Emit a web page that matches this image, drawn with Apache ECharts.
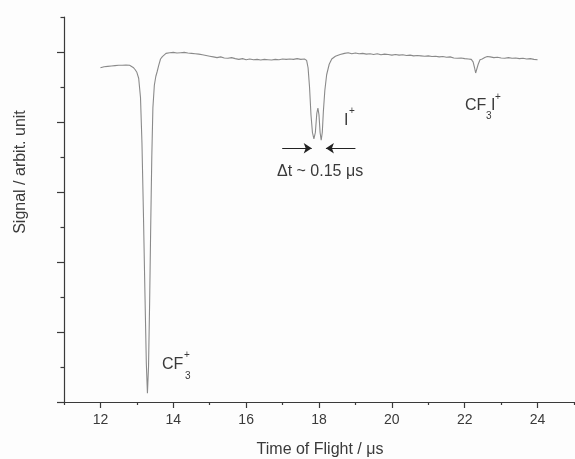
<!DOCTYPE html>
<html>
<head>
<meta charset="utf-8">
<script src="https://cdn.jsdelivr.net/npm/echarts@6/dist/echarts.min.js"></script>
<style>
  html, body { margin: 0; padding: 0; background: #fdfdfd; }
  #main { width: 575px; height: 459px; }
</style>
</head>
<body>
<div id="main"></div>
<script>
var myChart = echarts.init(document.getElementById('main'));

// time of flight (µs)
var tof = [
  12.00, 12.05, 12.10, 12.15, 12.20, 12.25, 12.30, 12.35, 12.40, 12.45,
  12.50, 12.55, 12.60, 12.65, 12.70, 12.75, 12.80, 12.85, 12.90, 12.95,
  13.00, 13.05, 13.10, 13.14, 13.18, 13.22, 13.26, 13.29, 13.32, 13.35,
  13.38, 13.41, 13.44, 13.48, 13.52, 13.56, 13.60, 13.65, 13.70, 13.75,
  13.80, 13.85, 13.90, 13.95, 14.00, 14.05, 14.10, 14.15, 14.20, 14.25,
  14.30, 14.35, 14.40, 14.45, 14.50, 14.55, 14.60, 14.65, 14.70, 14.75,
  14.80, 14.85, 14.90, 14.95, 15.00, 15.10, 15.20, 15.30, 15.40, 15.50,
  15.60, 15.70, 15.80, 15.90, 16.00, 16.10, 16.20, 16.30, 16.40, 16.50,
  16.60, 16.70, 16.80, 16.90, 17.00, 17.10, 17.20, 17.30, 17.40, 17.50,
  17.60, 17.66, 17.70, 17.74, 17.78, 17.82, 17.86, 17.90, 17.94, 17.97,
  18.00, 18.03, 18.06, 18.09, 18.12, 18.16, 18.21, 18.28, 18.35, 18.45,
  18.58, 18.70, 18.80, 18.90, 19.00, 19.10, 19.20, 19.30, 19.40, 19.50,
  19.60, 19.70, 19.80, 19.90, 20.00, 20.10, 20.20, 20.30, 20.40, 20.50,
  20.60, 20.70, 20.80, 20.90, 21.00, 21.10, 21.20, 21.30, 21.40, 21.50,
  21.60, 21.70, 21.80, 21.90, 22.00, 22.10, 22.18, 22.23, 22.27, 22.30,
  22.33, 22.37, 22.42, 22.48, 22.55, 22.62, 22.70, 22.80, 22.90, 23.00,
  23.10, 23.20, 23.30, 23.40, 23.50, 23.60, 23.70, 23.80, 23.90, 24.00
];

// signal (arbitrary units)
var signal = [
  9.55, 9.57, 9.58, 9.57, 9.59, 9.58, 9.60, 9.59, 9.61, 9.60,
  9.62, 9.60, 9.62, 9.61, 9.63, 9.60, 9.62, 9.58, 9.56, 9.50,
  9.42, 9.25, 8.70, 7.40, 5.40, 3.20, 1.10, 0.25, 1.00, 2.80,
  5.00, 7.00, 8.40, 9.05, 9.30, 9.45, 9.62, 9.80, 9.87, 9.92,
  9.96, 9.93, 9.98, 9.94, 9.99, 9.95, 9.97, 9.93, 9.98, 9.94,
  9.99, 9.95, 9.97, 9.92, 9.96, 9.93, 9.95, 9.91, 9.94, 9.90,
  9.92, 9.88, 9.90, 9.86, 9.88, 9.86, 9.84, 9.86, 9.83, 9.82,
  9.84, 9.81, 9.79, 9.81, 9.78, 9.80, 9.78, 9.79, 9.77, 9.79,
  9.78, 9.77, 9.79, 9.78, 9.80, 9.79, 9.80, 9.79, 9.81, 9.79,
  9.80, 9.76, 9.55, 9.00, 8.20, 7.70, 7.52, 7.70, 8.25, 8.40,
  8.20, 7.70, 7.48, 7.70, 8.30, 8.90, 9.35, 9.65, 9.80, 9.88,
  9.93, 9.96, 9.98, 9.95, 9.97, 9.95, 9.96, 9.94, 9.95, 9.93,
  9.95, 9.92, 9.94, 9.93, 9.91, 9.93, 9.91, 9.92, 9.90, 9.91,
  9.89, 9.90, 9.89, 9.88, 9.89, 9.87, 9.88, 9.86, 9.87, 9.85,
  9.86, 9.83, 9.82, 9.83, 9.81, 9.80, 9.79, 9.72, 9.55, 9.40,
  9.45, 9.65, 9.78, 9.80, 9.84, 9.87, 9.86, 9.84, 9.85, 9.83,
  9.82, 9.84, 9.82, 9.83, 9.81, 9.82, 9.80, 9.81, 9.79, 9.78
];

var xMajor = [12, 14, 16, 18, 20, 22, 24];
var xMinor = [11, 13, 15, 17, 19, 21, 23, 25];
var yMajor = [0, 2, 4, 6, 8, 10];
var yMinor = [1, 3, 5, 7, 9, 11];

// Δt arrows: [from, to] in data coords
var arrowLeft = [[16.99, 7.25], [17.80, 7.25]];
var arrowRight = [[19.00, 7.25], [18.19, 7.25]];

var data = tof.map(function (t, i) { return [t, signal[i]]; });

var axisColor = '#3a3a3a';
var textColor = '#3a3a3a';
var font = '"Liberation Sans", Arial, sans-serif';

function xAx(ticks, len, showLine, showLabel) {
    return {
        type: 'value', min: 11, max: 25, position: 'bottom',
        axisLine: { show: showLine, onZero: false, lineStyle: { color: axisColor, width: 1.2 } },
        axisTick: { show: true, customValues: ticks, length: len, lineStyle: { color: axisColor, width: 1.2 } },
        axisLabel: { show: showLabel, customValues: ticks, margin: 11, color: textColor, fontSize: 14, fontFamily: font },
        splitLine: { show: false }
    };
}
function yAx(ticks, len, showLine) {
    return {
        type: 'value', min: 0, max: 11, position: 'left',
        axisLine: { show: showLine, onZero: false, lineStyle: { color: axisColor, width: 1.2 } },
        axisTick: { show: true, customValues: ticks, length: len, lineStyle: { color: axisColor, width: 1.2 } },
        axisLabel: { show: false },
        splitLine: { show: false }
    };
}

// small helper for annotation text
function txt(s, x, y, size) {
    return { type: 'text', x: x, y: y, style: { text: s, fill: textColor, font: size + 'px ' + font, textVerticalAlign: 'middle' } };
}

var option = {
    backgroundColor: '#fdfdfd',
    animation: false,
    grid: { left: 64, right: 1, top: 17, bottom: 57 },
    xAxis: [xAx(xMajor, 6, true, true), xAx(xMinor, 3, false, false)],
    yAxis: [yAx(yMajor, 7, true), yAx(yMinor, 3.5, false)],
    series: [{
        type: 'line',
        data: data,
        showSymbol: false,
        lineStyle: { color: '#8a8a8a', width: 1.1 },
        markLine: {
            silent: true,
            symbol: ['none', 'arrow'],
            symbolSize: 8,
            label: { show: false },
            lineStyle: { color: '#222', width: 1, type: 'solid' },
            data: [
                [{ coord: arrowLeft[0] }, { coord: arrowLeft[1] }],
                [{ coord: arrowRight[0] }, { coord: arrowRight[1] }]
            ]
        }
    }],
    graphic: [
        { type: 'text', x: 320, y: 450, style: { text: 'Time of Flight / μs', fill: textColor, font: '16px ' + font, textAlign: 'center', textVerticalAlign: 'middle' } },
        { type: 'text', x: 21, y: 172, rotation: Math.PI / 2, style: { text: 'Signal / arbit. unit', fill: textColor, font: '16px ' + font, textAlign: 'center', textVerticalAlign: 'middle' } },
        // CF3+
        txt('CF', 162, 365, 16),
        txt('+', 184, 355, 10),
        txt('3', 185, 376, 10),
        // I+
        txt('I', 344, 121, 16),
        txt('+', 349, 111, 10),
        // Δt
        txt('Δt ~ 0.15 μs', 277, 172, 16),
        // CF3I+
        txt('CF', 465, 106, 16),
        txt('3', 486, 116, 10),
        txt('I', 491, 106, 16),
        txt('+', 495, 97, 10)
    ]
};

myChart.setOption(option);
</script>
</body>
</html>
